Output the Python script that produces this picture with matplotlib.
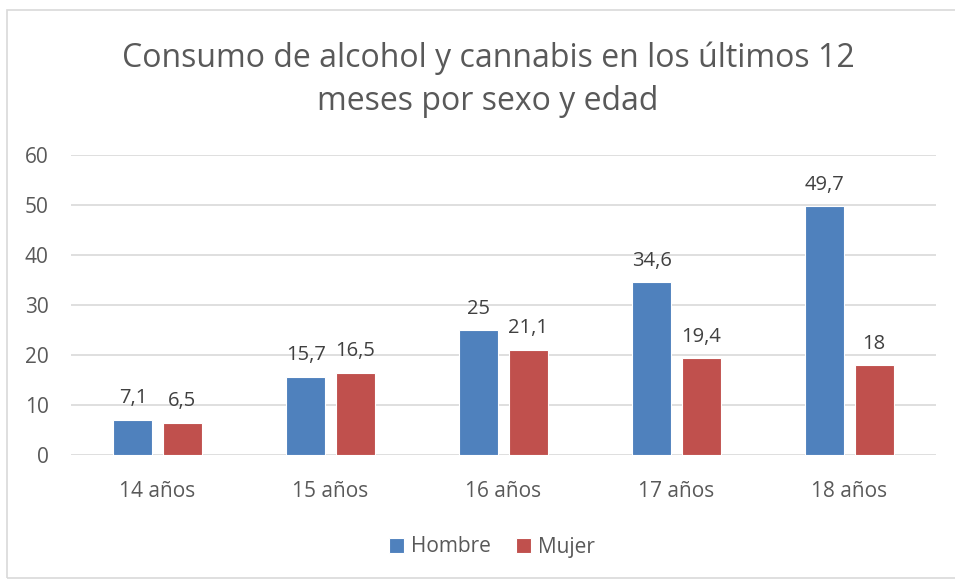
import matplotlib.pyplot as plt
import numpy as np
from matplotlib.patches import Rectangle

categories = ['14 años', '15 años', '16 años', '17 años', '18 años']
hombre = [7.1, 15.7, 25, 34.6, 49.7]
mujer = [6.5, 16.5, 21.1, 19.4, 18]
hombre_labels = ['7,1', '15,7', '25', '34,6', '49,7']
mujer_labels = ['6,5', '16,5', '21,1', '19,4', '18']

BLUE = '#4F81BD'
RED = '#C0504D'
TEXT = '#595959'

plt.rcParams['font.family'] = ['Open Sans', 'DejaVu Sans']

fig = plt.figure(figsize=(9.55, 5.81), dpi=100)
# light border around the chart area
fig.patches.append(Rectangle((7 / 955, 3 / 581), 960 / 955, 568 / 581, transform=fig.transFigure,
                             fill=False, edgecolor='#D9D9D9', linewidth=1.2))

ax = fig.add_axes([71 / 955, (581 - 455) / 581, (936 - 71) / 955, 300 / 581])

x = np.arange(len(categories))
w = 0.225
off = 0.142
b1 = ax.bar(x - off, hombre, w, color=BLUE, edgecolor='white', linewidth=0.8, label='Hombre', zorder=3)
b2 = ax.bar(x + off, mujer, w, color=RED, edgecolor='white', linewidth=0.8, label='Mujer', zorder=3)

for bars, labs in ((b1, hombre_labels), (b2, mujer_labels)):
    for rect, lab in zip(bars, labs):
        ax.annotate(lab, (rect.get_x() + rect.get_width() / 2, rect.get_height()),
                    xytext=(0, 8), textcoords='offset points', ha='center', va='bottom',
                    fontsize=14.5, color='#404040')

ax.set_xlim(-0.5, 4.5)
ax.set_ylim(0, 60)
ax.set_yticks(range(0, 61, 10))
ax.set_xticks(x)
ax.set_xticklabels(categories)
ax.tick_params(axis='both', length=0, labelsize=15, colors=TEXT)
ax.tick_params(axis='x', pad=19)
ax.tick_params(axis='y', pad=16)
ax.yaxis.grid(True, color='#D9D9D9', linewidth=1.2, zorder=0)
for s in ax.spines.values():
    s.set_visible(False)

fig.text(488 / 955, 1 - 80 / 581, 'Consumo de alcohol y cannabis en los últimos 12\nmeses por sexo y edad',
         ha='center', va='center', fontsize=23, color=TEXT, linespacing=1.4)

fig.legend(handles=[b1, b2], loc='center', bbox_to_anchor=(492 / 955, 1 - 547 / 581), ncol=2,
           frameon=False, fontsize=15, handlelength=0.7, handleheight=0.7, handletextpad=0.35,
           columnspacing=1.2, labelcolor=TEXT)

fig.savefig('out.png', dpi=100)
